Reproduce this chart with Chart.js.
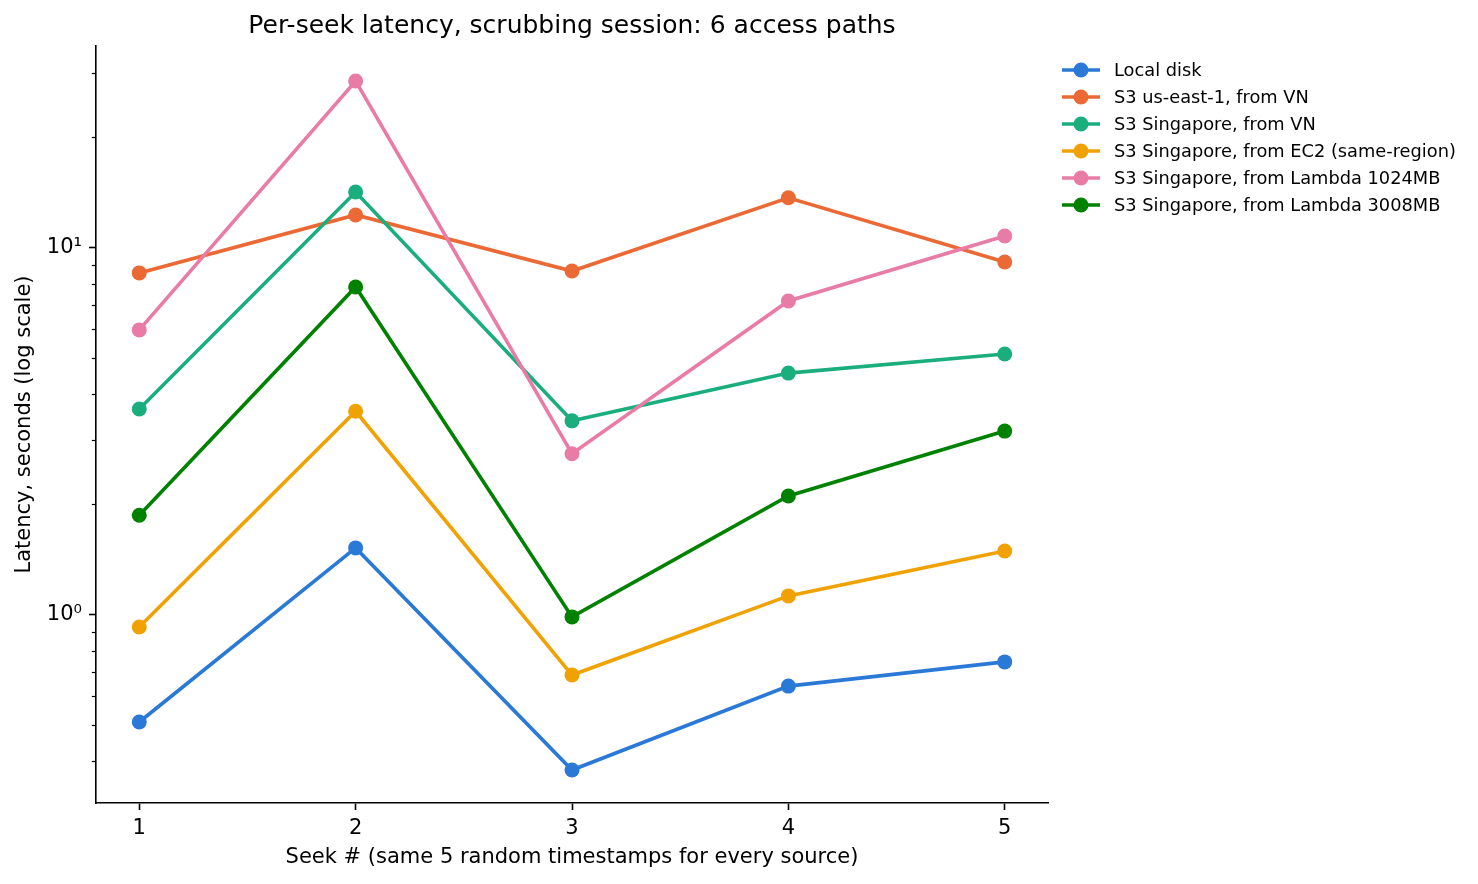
<!DOCTYPE html>
<html><head><meta charset="utf-8">
<script src="https://cdn.jsdelivr.net/npm/chart.js@4.4.1/dist/chart.umd.min.js"></script>
<style>html,body{margin:0;padding:0;background:#fff}#wrap{width:1478px;height:884px;position:relative}</style>
</head><body><div id="wrap"><canvas id="c" width="1478" height="884"></canvas></div>
<script>
const chartTitle = 'Per-seek latency, scrubbing session: 6 access paths';
const xAxisTitle = 'Seek # (same 5 random timestamps for every source)';
const yAxisTitle = 'Latency, seconds (log scale)';
const seeks = [1, 2, 3, 4, 5];
const seriesNames = [
  'Local disk',
  'S3 us-east-1, from VN',
  'S3 Singapore, from VN',
  'S3 Singapore, from EC2 (same-region)',
  'S3 Singapore, from Lambda 1024MB',
  'S3 Singapore, from Lambda 3008MB'
];
const localDisk     = [0.511, 1.523, 0.378, 0.640, 0.745];
const s3UsEastVN    = [8.55, 12.3, 8.65, 13.7, 9.16];
const s3SingVN      = [3.64, 14.2, 3.38, 4.56, 5.14];
const s3SingEC2     = [0.927, 3.59, 0.686, 1.127, 1.494];
const s3SingLam1024 = [5.98, 28.5, 2.75, 7.17, 10.78];
const s3SingLam3008 = [1.87, 7.83, 0.988, 2.11, 3.17];
const yTickValues = [0.4, 0.5, 0.6, 0.7, 0.8, 0.9, 1, 2, 3, 4, 5, 6, 7, 8, 9, 10, 20, 30];
const yMajorTicks = [1, 10];
const yMajorLabels = ['10⁰', '10¹'];

const colors = ['#2A79D7', '#EB6935', '#1BAE7D', '#F0A204', '#E97CA6', '#008200'];
const seriesValues = [localDisk, s3UsEastVN, s3SingVN, s3SingEC2, s3SingLam1024, s3SingLam3008];
const FONT = "'DejaVu Sans', sans-serif";
const LW = 3.6, PR = 7.5;

const datasets = seriesValues.map((vals, i) => ({
  label: seriesNames[i],
  data: vals.map((v, j) => ({x: seeks[j], y: v})),
  borderColor: colors[i],
  backgroundColor: colors[i],
  pointBackgroundColor: colors[i],
  pointBorderWidth: 0,
  pointRadius: PR,
  pointHoverRadius: PR,
  borderWidth: LW,
  tension: 0,
  order: seriesValues.length - 1 - i
}));

const extras = {
  id: 'extras',
  afterDraw(chart) {
    const ctx = chart.ctx;
    const ca = chart.chartArea;
    const ys = chart.scales.y;
    ctx.save();
    // minor ticks on the log axis
    ctx.strokeStyle = '#000';
    ctx.lineWidth = 1.2;
    yTickValues.forEach(v => {
      if (yMajorTicks.includes(v)) return;
      const py = Math.round(ys.getPixelForValue(v)) + 0.5;
      ctx.beginPath();
      ctx.moveTo(ca.left - 4.2, py);
      ctx.lineTo(ca.left, py);
      ctx.stroke();
    });
    // title
    ctx.fillStyle = '#000';
    ctx.font = '25px ' + FONT;
    ctx.textAlign = 'center';
    ctx.textBaseline = 'alphabetic';
    ctx.fillText(chartTitle, (ca.left + ca.right) / 2, 33);
    // legend
    ctx.font = '17.8px ' + FONT;
    ctx.textAlign = 'left';
    ctx.textBaseline = 'middle';
    seriesNames.forEach((name, i) => {
      const y = 70 + i * 27;
      ctx.strokeStyle = colors[i];
      ctx.lineWidth = LW;
      ctx.beginPath();
      ctx.moveTo(1062, y);
      ctx.lineTo(1100, y);
      ctx.stroke();
      ctx.fillStyle = colors[i];
      ctx.beginPath();
      ctx.arc(1081, y, PR, 0, Math.PI * 2);
      ctx.fill();
      ctx.fillStyle = '#000';
      ctx.fillText(name, 1114, y + 1);
    });
    ctx.restore();
  }
};

new Chart(document.getElementById('c'), {
  type: 'line',
  data: { datasets },
  options: {
    responsive: false,
    animation: false,
    devicePixelRatio: 1,
    layout: { padding: { top: 46, right: 430, left: 0, bottom: 0 } },
    plugins: { legend: { display: false }, title: { display: false }, tooltip: { enabled: false } },
    scales: {
      x: {
        type: 'linear', min: 0.8, max: 5.2, bounds: 'data',
        afterBuildTicks: s => { s.ticks = seeks.map(v => ({ value: v })); },
        afterFit: s => { s.height = 81; },
        ticks: { font: { family: FONT, size: 21 }, color: '#000', padding: 6, autoSkip: false, maxRotation: 0,
                 callback: v => String(v) },
        grid: { display: true, drawOnChartArea: false, drawTicks: true, tickLength: 7, tickWidth: 1.6, tickColor: '#000' },
        border: { display: true, color: '#000', width: 1.6 },
        title: { display: true, text: xAxisTitle, color: '#000', font: { family: FONT, size: 21 }, padding: { top: 0, bottom: 14 } }
      },
      y: {
        type: 'logarithmic', min: 0.3074, max: 35.5, bounds: 'data',
        afterBuildTicks: s => { s.ticks = yTickValues.map(v => ({ value: v, major: yMajorTicks.includes(v) })); s.min = 0.3074; s.max = 35.5; },
        afterFit: s => { s.width = 96; },
        ticks: { font: { family: FONT, size: 21 }, color: '#000', padding: 7, autoSkip: false,
                 callback: v => { const k = yMajorTicks.indexOf(v); return k >= 0 ? yMajorLabels[k] : ''; } },
        grid: { display: true, drawOnChartArea: false, drawTicks: true, tickLength: 7, tickWidth: 1.6,
                tickColor: c => (c.tick && yMajorTicks.includes(c.tick.value)) ? '#000' : 'rgba(0,0,0,0)' },
        border: { display: true, color: '#000', width: 1.6 },
        title: { display: true, text: yAxisTitle, color: '#000', font: { family: FONT, size: 21 }, padding: { top: 12, bottom: 0 } }
      }
    }
  },
  plugins: [extras]
});
</script>
</body></html>
